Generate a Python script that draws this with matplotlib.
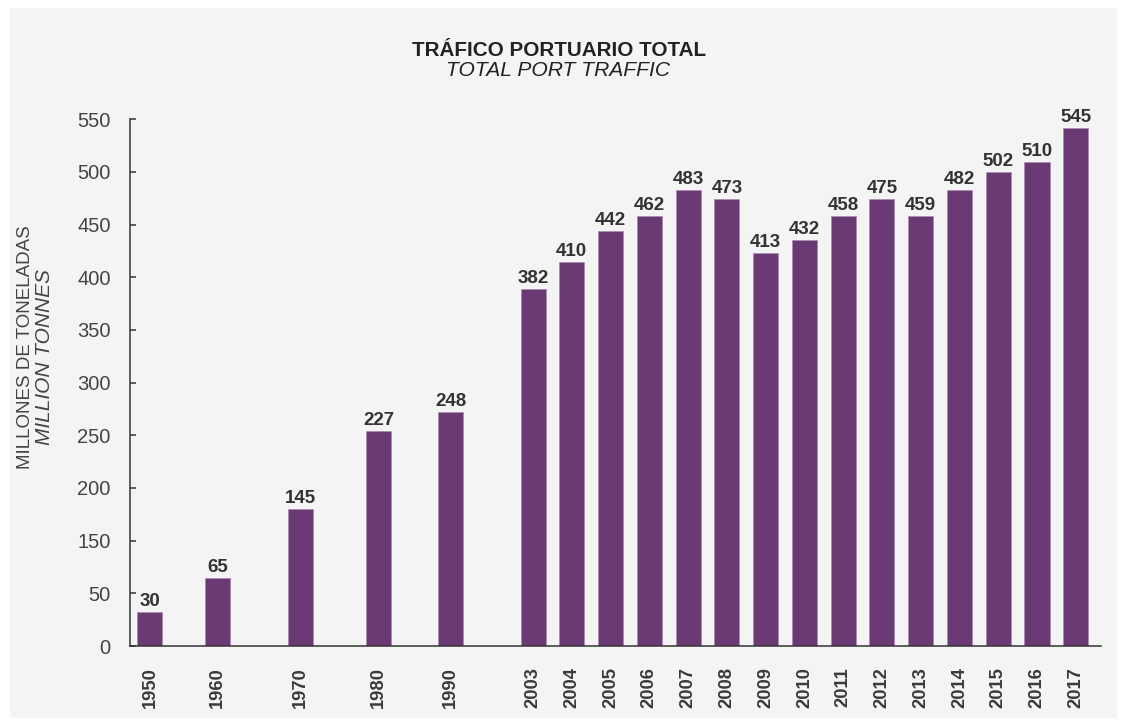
import matplotlib
matplotlib.use("Agg")
import matplotlib.pyplot as plt
from matplotlib.patches import Rectangle
import numpy as np

# ---------------- data ----------------
years = ["1950", "1960", "1970", "1980", "1990", "2003", "2004", "2005", "2006",
         "2007", "2008", "2009", "2010", "2011", "2012", "2013", "2014", "2015",
         "2016", "2017"]
value_labels = [30, 65, 145, 227, 248, 382, 410, 442, 462, 483, 473, 413, 432,
                458, 475, 459, 482, 502, 510, 545]
# bar heights as drawn in the picture (read against the 0-550 axis extent)
bar_heights = [35.5, 70.7, 143.1, 224.2, 244.0, 372.5, 400.7, 433.4, 449.0,
               475.9, 466.5, 410.1, 424.0, 449.0, 466.5, 449.0, 475.9, 494.7,
               505.4, 541.2]
y_tick_labels = ["0", "50", "150", "200", "250", "300", "350", "400", "450",
                 "500", "550"]
title_es = "TRÁFICO PORTUARIO TOTAL"
title_en = "TOTAL PORT TRAFFIC"
ylabel_es = "MILLONES DE TONELADAS"
ylabel_en = "MILLION TONNES"

# ---------------- layout ----------------
W, H = 1121, 722
FONT = ["Liberation Sans", "DejaVu Sans"]
plt.rcParams["font.family"] = FONT

slot_x = [-9.88, -8.14, -5.99, -3.98, -2.12] + list(range(15))
BAR_COLOR = "#6b3a74"
TEXT_DARK = "#333333"

fig = plt.figure(figsize=(W / 100, H / 100), dpi=100, facecolor="white")
fig.patches.append(Rectangle((10 / W, 4 / H), (1117 - 10) / W, (718 - 8) / H,
                             transform=fig.transFigure, facecolor="#f4f4f4",
                             edgecolor="none", zorder=-10))

ax = fig.add_axes([130 / W, 76 / H, (1100.7 - 130) / W, (646 - 119.3) / H])
ax.set_facecolor("none")

ax.bar(slot_x, bar_heights, width=0.645, color=BAR_COLOR,
       edgecolor="#a98bb0", linewidth=0.5, zorder=2)

for xi, h, lab in zip(slot_x, bar_heights, value_labels):
    ax.annotate(str(lab), (xi, h), xytext=(0, 4.3), textcoords="offset points",
                ha="center", va="baseline", fontweight="bold", fontsize=13.5,
                color=TEXT_DARK)

ax.set_xlim(-10.395, 14.643)
ax.set_ylim(0, 550)
ax.set_yticks(np.linspace(0, 550, len(y_tick_labels)))
ax.set_yticklabels(y_tick_labels)
ax.set_xticks(slot_x)
ax.set_xticklabels(years, rotation=90, fontweight="bold", fontsize=13.2,
                   color="#3a3a3a")
ax.tick_params(axis="x", length=0, pad=15)
ax.tick_params(axis="y", direction="in", length=4, width=1.1, pad=14,
               labelsize=14.5, labelcolor="#444444", color="#333333")

for s in ["top", "right"]:
    ax.spines[s].set_visible(False)
for s in ["left", "bottom"]:
    ax.spines[s].set_color("#333333")
    ax.spines[s].set_linewidth(1.1)

fig.text(559 / W, 1 - 56 / H, title_es, ha="center", va="baseline",
         fontweight="bold", fontsize=14.9, color="#222222")
fig.text(558 / W, 1 - 75.7 / H, title_en, ha="center", va="baseline",
         fontstyle="italic", fontsize=15.1, color="#222222")

fig.text(26 / W, 1 - 347.5 / H, ylabel_es, rotation=90, ha="center",
         va="center", fontsize=13.5, color="#444444")
fig.text(44.5 / W, 1 - 356.7 / H, ylabel_en, rotation=90, ha="center",
         va="center", fontstyle="italic", fontsize=15, color="#444444")

fig.savefig("out.png", dpi=100, facecolor="white")
